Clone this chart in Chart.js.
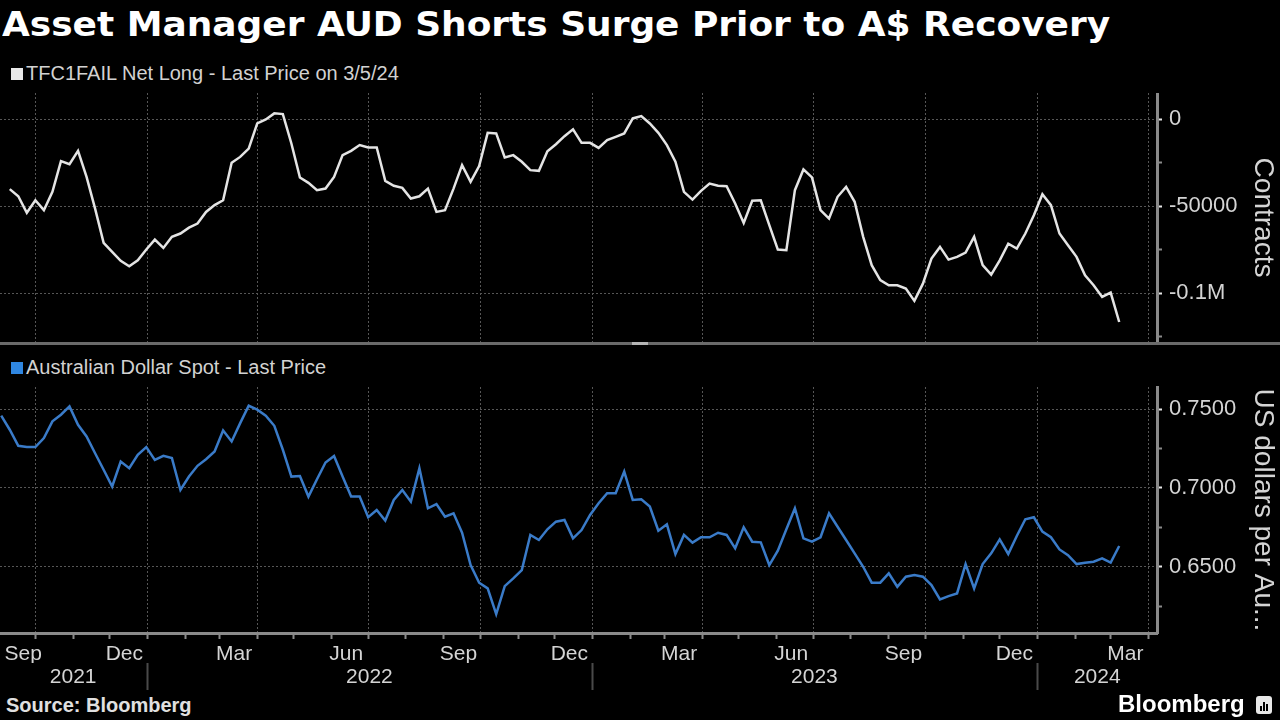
<!DOCTYPE html>
<html>
<head>
<meta charset="utf-8">
<script src="https://cdn.jsdelivr.net/npm/chart.js@4.4.0/dist/chart.umd.min.js"></script>
<style>
html, body { margin: 0; padding: 0; background: #000; }
body { width: 1280px; height: 720px; position: relative; overflow: hidden;
       font-family: 'Liberation Sans', Arial, sans-serif; color: #d6d6d6; }
#title { position: absolute; left: 2px; top: 4px; font-family: 'DejaVu Sans', sans-serif; font-weight: bold;
         font-size: 34px; color: #fff; white-space: nowrap; transform-origin: 0 0; }
.legend { position: absolute; left: 11px; font-size: 20px; color: #d2d2d2; white-space: nowrap; }
.legend i { display: inline-block; width: 12px; height: 12px; margin-right: 3px; }
#topWrap { position: absolute; left: 0; top: 93px; }
#botWrap { position: absolute; left: 0; top: 380px; }
#sep { position: absolute; left: 0; top: 342px; width: 1280px; height: 3px; background: #6a6a6a; }
#handle { position: absolute; left: 632px; top: 342px; width: 16px; height: 3px; background: #b4b4b4; }
#source { position: absolute; left: 6px; top: 694px; font-weight: bold; font-size: 20px; color: #e0e0e0; }
#brand { position: absolute; left: 1118px; top: 690px; font-weight: bold; font-size: 24px; color: #fff; }
#logo { position: absolute; left: 1256px; top: 696px; width: 16px; height: 18px; background: #e8e8e8; border-radius: 3px; }
#logo b { position: absolute; bottom: 3px; width: 2px; background: #000; }
</style>
</head>
<body>
<div id="title">Asset Manager AUD Shorts Surge Prior to A$ Recovery</div>
<div class="legend" style="top:62px"><i style="background:#e8e8e8"></i>TFC1FAIL Net Long - Last Price on 3/5/24</div>
<div id="topWrap"><canvas id="topChart" width="1280" height="249"></canvas></div>
<div id="sep"></div><div id="handle"></div>
<div class="legend" style="top:356px"><i style="background:#2f86e0"></i>Australian Dollar Spot - Last Price</div>
<div id="botWrap"><canvas id="botChart" width="1280" height="313"></canvas></div>
<div id="source">Source: Bloomberg</div>
<div id="brand">Bloomberg</div>
<div id="logo"><b style="left:4px;height:5px"></b><b style="left:7px;height:9px"></b><b style="left:10px;height:7px"></b></div>
<script>
// weekly observations (Fridays)
const netLongStart = '2021-09-10';
const netLong = [-40200, -44300, -53800, -46600, -52300, -41800, -24100, -25900, -18200, -33200,
  -51400, -71100, -76300, -81400, -84500, -81100, -74900, -69200, -74000, -67600,
  -65700, -62300, -60000, -53300, -49400, -46600, -25100, -21700, -16900, -2500,
  -200, 3300, 2900, -14000, -33500, -36600, -40800, -39900, -33200, -20700,
  -18200, -14900, -16300, -16300, -35500, -38300, -39500, -45600, -44300, -39900,
  -53300, -52300, -39900, -26400, -36000, -27000, -7900, -8200, -22000, -20700,
  -24500, -29300, -29700, -18400, -14400, -9800, -5900, -13600, -13600, -16500,
  -12100, -10200, -8200, 400, 1700,
  -2500, -7900, -14900, -24500, -41800, -46200, -41200, -37000, -38300, -38500,
  -48500, -59600, -46900, -46600, -60900, -74900, -75300, -40800, -28900, -33500,
  -52300, -57100, -44600, -38900, -47500, -67600, -83900, -92500, -95400, -95400,
  -97300, -104400, -94500, -80100, -73400, -80700, -79100, -76600, -67600, -83900,
  -89300, -81100, -71500, -74300, -65700, -55200, -43100, -49400, -65700, -72400,
  -79100, -89700, -95400, -102100, -99600, -116500];

const audStart = '2021-09-03';
const audSpot = [0.7458, 0.7369, 0.7267, 0.7259, 0.7259, 0.7316, 0.7422, 0.7464, 0.7517, 0.7400,
  0.7326, 0.7220, 0.7115, 0.7009, 0.7167, 0.7125, 0.7210, 0.7259, 0.7178, 0.7203,
  0.7189, 0.6987, 0.7072, 0.7140, 0.7182, 0.7231, 0.7364, 0.7295, 0.7411, 0.7521,
  0.7496, 0.7458, 0.7394, 0.7242, 0.7072, 0.7076, 0.6945, 0.7055, 0.7161, 0.7203,
  0.7072, 0.6945, 0.6945, 0.6814, 0.6860, 0.6793, 0.6924, 0.6987, 0.6913, 0.7125,
  0.6871, 0.6898, 0.6818, 0.6839, 0.6716, 0.6511, 0.6399, 0.6363, 0.6200, 0.6377,
  0.6426, 0.6479, 0.6702, 0.6670, 0.6738, 0.6786, 0.6797, 0.6680, 0.6733, 0.6829,
  0.6903, 0.6966, 0.6966, 0.7104, 0.6924, 0.6928,
  0.6882, 0.6729, 0.6769, 0.6581, 0.6702, 0.6653, 0.6687, 0.6687, 0.6716, 0.6702,
  0.6617, 0.6750, 0.6659, 0.6655, 0.6511, 0.6602, 0.6738, 0.6871, 0.6680, 0.6659,
  0.6687, 0.6839, 0.6754, 0.6670, 0.6585, 0.6500, 0.6399, 0.6399, 0.6458, 0.6373,
  0.6437, 0.6447, 0.6437, 0.6384, 0.6293, 0.6314, 0.6331, 0.6517, 0.6363, 0.6517,
  0.6585, 0.6674, 0.6581, 0.6695, 0.6801, 0.6814, 0.6723, 0.6687, 0.6610, 0.6574,
  0.6517, 0.6526, 0.6532, 0.6553, 0.6526, 0.6632];

// axis range and ticks
const xStart = '2021-09-02';
const xEnd = '2024-04-08';
const monthLabels = ['Sep', 'Dec', 'Mar', 'Jun', 'Sep', 'Dec', 'Mar', 'Jun', 'Sep', 'Dec', 'Mar'];
const monthLabelDates = ['2021-09-21', '2021-12-13', '2022-03-13', '2022-06-13', '2022-09-13', '2022-12-13',
  '2023-03-13', '2023-06-13', '2023-09-13', '2023-12-13', '2024-03-13'];
const yearLabels = ['2021', '2022', '2023', '2024'];
const yearLabelDates = ['2021-11-01', '2022-07-02', '2023-07-02', '2024-02-19'];
const yearBreaks = ['2022-01-01', '2023-01-01', '2024-01-01'];

const topTicks = [0, -50000, -100000];
const topTickLabels = ['0', '-50000', '-0.1M'];
const topMinor = [-25000, -75000, -125000];
const botTicks = [0.75, 0.70, 0.65];
const botTickLabels = ['0.7500', '0.7000', '0.6500'];
const botMinor = [0.725, 0.675, 0.625];

const FONT = "'Liberation Sans', Arial, sans-serif";
const gridColor = '#565656';
const axisColor = '#8a8a8a';
const labelColor = '#d4d4d4';

// stretch the headline to the reference width
const titleEl = document.getElementById('title');
titleEl.style.transform = 'scaleX(' + (1108 / titleEl.offsetWidth) + ')';

function dayNum(s) {
  const p = s.split('-').map(Number);
  return (Date.UTC(p[0], p[1] - 1, p[2]) - Date.UTC(2022, 0, 1)) / 86400000;
}
function weekly(start, values) {
  const d0 = dayNum(start);
  return values.map((v, i) => ({ x: d0 + 7 * i, y: v }));
}
function monthStarts() {
  const out = [];
  for (let y = 2021; y <= 2024; y++) {
    for (let m = 1; m <= 12; m++) {
      const n = (Date.UTC(y, m - 1, 1) - Date.UTC(2022, 0, 1)) / 86400000;
      if (n > dayNum(xStart) && n < dayNum(xEnd)) out.push({ n: n, m: m });
    }
  }
  return out;
}
function noPad(s) { s.paddingLeft = 0; s.paddingRight = 0; s.paddingTop = 0; s.paddingBottom = 0; }

const xMin = dayNum(xStart), xMax = dayNum(xEnd);
const months = monthStarts();

function gridAxis(showBorder, h) {
  return {
    type: 'linear', position: 'bottom', min: xMin, max: xMax, weight: 0,
    afterBuildTicks: s => { s.ticks = months.map(o => ({ value: o.n, q: o.m % 3 === 1 })); },
    ticks: { display: false, autoSkip: false },
    grid: {
      color: c => (c.tick && c.tick.q) ? gridColor : 'rgba(0,0,0,0)',
      lineWidth: 1, drawTicks: showBorder, tickLength: 6, tickColor: axisColor, tickWidth: 2
    },
    border: { display: showBorder, color: axisColor, width: 3, dash: [2, 2] },
    afterFit: s => { s.height = h; noPad(s); }
  };
}

function yAxis(min, max, major, labels, minor, title) {
  return {
    position: 'right', min: min, max: max,
    afterBuildTicks: s => { s.ticks = major.map(v => ({ value: v })).concat(minor.map(v => ({ value: v, minor: true }))); },
    ticks: {
      autoSkip: false, color: labelColor, padding: 7,
      font: { family: FONT, size: 22 },
      callback: v => { const i = major.indexOf(v); return i >= 0 ? labels[i] : ''; }
    },
    grid: {
      color: c => (c.tick && !c.tick.minor) ? gridColor : 'rgba(0,0,0,0)',
      tickColor: c => (c.tick && !c.tick.minor) ? '#e6e6e6' : axisColor,
      tickLength: 5, tickWidth: 2
    },
    border: { color: axisColor, width: 3, dash: [2, 2] },
    title: { display: true, text: title, color: labelColor, font: { family: FONT, size: 28 }, padding: { top: 0, bottom: 0 } },
    afterFit: s => { s.width = 123; noPad(s); }
  };
}

new Chart(document.getElementById('topChart'), {
  type: 'line',
  data: {
    datasets: [{
      label: 'TFC1FAIL Net Long - Last Price on 3/5/24',
      data: weekly(netLongStart, netLong),
      borderColor: '#e4e4e4', borderWidth: 2.5, pointRadius: 0, tension: 0
    }]
  },
  options: {
    responsive: false, animation: false,
    layout: { padding: 0 },
    plugins: { legend: { display: false }, tooltip: { enabled: false } },
    scales: {
      x: gridAxis(false, 0),
      y: yAxis(-128000, 15000, topTicks, topTickLabels, topMinor, 'Contracts')
    }
  }
});

new Chart(document.getElementById('botChart'), {
  type: 'line',
  data: {
    datasets: [{
      label: 'Australian Dollar Spot - Last Price',
      data: weekly(audStart, audSpot),
      borderColor: '#3a7bc8', borderWidth: 2.5, pointRadius: 0, tension: 0
    }]
  },
  options: {
    responsive: false, animation: false,
    layout: { padding: { top: 7, left: 0, right: 0, bottom: 0 } },
    plugins: { legend: { display: false }, tooltip: { enabled: false } },
    scales: {
      x: gridAxis(true, 8),
      xm: {
        type: 'linear', position: 'bottom', min: xMin, max: xMax, weight: 1,
        afterBuildTicks: s => { s.ticks = monthLabelDates.map(d => ({ value: dayNum(d) })); },
        ticks: {
          autoSkip: false, maxRotation: 0, color: labelColor, padding: -7,
          font: { family: FONT, size: 21 },
          callback: (v, i) => monthLabels[i]
        },
        grid: { display: false },
        border: { display: false },
        afterFit: s => { s.height = 22; noPad(s); }
      },
      xy: {
        type: 'linear', position: 'bottom', min: xMin, max: xMax, weight: 2,
        afterBuildTicks: s => {
          s.ticks = yearLabelDates.map((d, i) => ({ value: dayNum(d), label: yearLabels[i] }))
            .concat(yearBreaks.map(d => ({ value: dayNum(d), brk: true })));
        },
        ticks: {
          autoSkip: false, maxRotation: 0, color: labelColor, padding: -25,
          font: { family: FONT, size: 21 },
          callback: (v, i, t) => t[i].brk ? '' : t[i].label
        },
        grid: {
          drawOnChartArea: false, drawTicks: true, tickLength: 27, tickWidth: 2,
          tickColor: c => (c.tick && c.tick.brk) ? '#4a4a4a' : 'rgba(0,0,0,0)'
        },
        border: { display: false },
        afterFit: s => { s.height = 30; noPad(s); }
      },
      y: yAxis(0.608, 0.764, botTicks, botTickLabels, botMinor, 'US dollars per Au...')
    }
  }
});
</script>
</body>
</html>
